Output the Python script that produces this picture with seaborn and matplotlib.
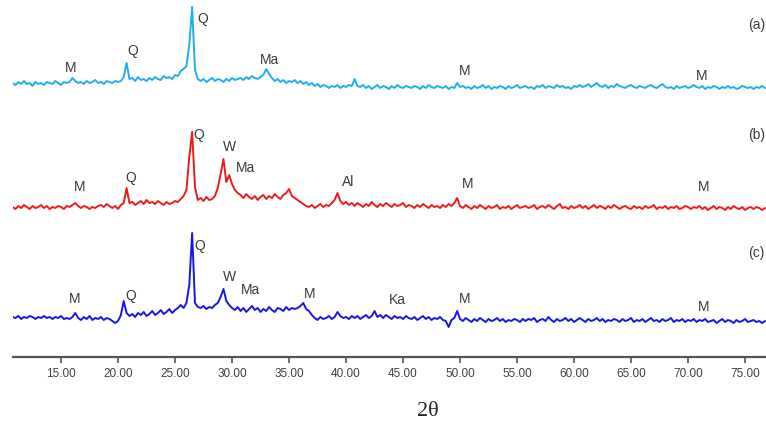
import numpy as np
import pandas as pd
import seaborn as sns
import matplotlib.pyplot as plt
from matplotlib.ticker import FormatStrFormatter

# 2-theta sampling of the scans (deg), 0.25 deg steps
two_theta = np.arange(10.75, 76.76, 0.25)

# intensities (arbitrary units, ~1 unit = 1 px), 20 points per row
pattern_a = [
    7, 5, 8, 6, 9, 6, 7, 4, 8, 6, 7, 5, 8, 7, 6, 9, 7, 5, 8, 7,
    8, 12, 9, 7, 8, 6, 9, 7, 8, 10, 7, 8, 6, 9, 8, 7, 9, 8, 9, 13,
    27, 11, 12, 9, 13, 10, 11, 9, 12, 10, 13, 11, 10, 14, 12, 13, 11, 15, 14, 19,
    21, 24, 45, 83, 20, 11, 9, 11, 8, 10, 12, 9, 11, 10, 8, 11, 9, 12, 10, 11,
    12, 10, 13, 11, 14, 12, 11, 13, 15, 21, 16, 12, 9, 11, 8, 10, 7, 9, 8, 10,
    7, 9, 6, 8, 5, 7, 4, 6, 3, 5, 4, 2, 4, 3, 5, 2, 4, 3, 5, 4,
    11, 4, 3, 5, 2, 4, 1, 3, 5, 2, 4, 3, 1, 4, 2, 5, 3, 2, 4, 3,
    2, 4, 3, 1, 4, 2, 5, 3, 2, 4, 3, 2, 4, 1, 3, 2, 7, 3, 4, 2,
    3, 1, 4, 2, 3, 5, 2, 4, 1, 3, 2, 4, 3, 1, 4, 2, 3, 5, 2, 3,
    4, 2, 3, 1, 4, 3, 5, 2, 4, 3, 2, 5, 3, 4, 2, 3, 1, 4, 3, 5,
    3, 4, 6, 3, 5, 7, 4, 3, 5, 2, 4, 3, 6, 4, 3, 2, 4, 5, 3, 2,
    4, 3, 2, 4, 5, 3, 2, 4, 6, 3, 2, 3, 1, 4, 2, 3, 4, 2, 3, 5,
    3, 2, 4, 1, 3, 2, 4, 3, 1, 3, 2, 4, 2, 3, 1, 2, 4, 3, 2, 3,
    1, 3, 2, 4, 2,
]
pattern_b = [
    5, 3, 6, 4, 7, 5, 3, 6, 4, 5, 7, 4, 6, 3, 5, 4, 6, 5, 3, 6,
    5, 7, 9, 6, 4, 6, 5, 3, 5, 4, 6, 7, 5, 8, 6, 4, 6, 3, 7, 9,
    24, 9, 10, 7, 9, 11, 8, 12, 9, 10, 8, 11, 9, 7, 10, 8, 9, 11, 10, 13,
    16, 22, 55, 80, 25, 12, 14, 11, 15, 12, 13, 16, 24, 38, 53, 30, 37, 28, 22, 19,
    17, 14, 18, 15, 13, 16, 12, 15, 17, 13, 16, 14, 18, 15, 13, 17, 19, 23, 16, 14,
    12, 10, 8, 6, 5, 7, 4, 6, 8, 5, 7, 6, 9, 12, 19, 11, 8, 10, 7, 9,
    6, 9, 7, 5, 8, 6, 10, 7, 5, 8, 6, 9, 7, 5, 8, 6, 7, 9, 5, 7,
    6, 4, 7, 5, 8, 6, 4, 7, 5, 6, 4, 7, 5, 8, 6, 9, 14, 6, 4, 7,
    5, 3, 6, 4, 7, 5, 3, 6, 4, 5, 7, 3, 5, 4, 6, 3, 5, 7, 4, 5,
    6, 4, 5, 7, 3, 5, 6, 4, 7, 5, 3, 6, 8, 4, 5, 3, 6, 4, 5, 7,
    4, 6, 3, 5, 7, 4, 6, 5, 3, 6, 4, 7, 5, 3, 5, 6, 4, 3, 6, 4,
    5, 3, 6, 4, 5, 7, 3, 5, 4, 6, 3, 5, 4, 6, 3, 4, 6, 5, 3, 5,
    4, 6, 3, 5, 2, 4, 6, 3, 5, 4, 2, 5, 3, 6, 4, 3, 5, 2, 4, 5,
    3, 5, 4, 2, 4,
]
pattern_c = [
    8, 7, 9, 6, 8, 7, 9, 8, 6, 8, 7, 9, 7, 8, 6, 8, 7, 9, 6, 7,
    6, 8, 12, 7, 5, 8, 6, 9, 5, 7, 6, 8, 5, 7, 6, 4, 2, 4, 10, 24,
    12, 9, 11, 8, 12, 10, 13, 9, 11, 14, 10, 12, 15, 11, 13, 16, 12, 15, 17, 20,
    17, 22, 40, 92, 22, 18, 17, 19, 16, 18, 17, 20, 22, 28, 36, 24, 20, 17, 15, 18,
    14, 17, 13, 16, 19, 15, 17, 13, 16, 14, 18, 15, 13, 17, 16, 14, 18, 15, 17, 16,
    17, 19, 22, 16, 14, 10, 7, 5, 8, 6, 7, 9, 6, 8, 13, 9, 7, 8, 6, 9,
    7, 9, 6, 8, 10, 7, 9, 14, 8, 10, 7, 10, 8, 6, 9, 7, 8, 6, 9, 7,
    6, 8, 5, 7, 9, 6, 8, 5, 7, 6, 8, 5, 4, -2, 5, 7, 14, 6, 4, 7,
    5, 3, 6, 4, 7, 5, 3, 6, 4, 5, 7, 4, 6, 3, 5, 4, 6, 5, 3, 6,
    4, 6, 5, 7, 3, 5, 6, 4, 8, 5, 3, 6, 4, 5, 7, 4, 6, 3, 5, 7,
    5, 3, 6, 4, 5, 7, 4, 6, 3, 5, 4, 6, 5, 3, 6, 4, 5, 7, 3, 5,
    4, 6, 3, 5, 7, 4, 5, 3, 6, 4, 5, 7, 3, 5, 4, 6, 3, 5, 4, 6,
    3, 5, 4, 6, 3, 4, 5, 2, 4, 6, 3, 5, 4, 2, 5, 3, 4, 6, 3, 4,
    5, 3, 4, 2, 4,
]

samples = ['(a)', '(b)', '(c)']
colors = ['#1FAFEC', '#EE1B1B', '#1717E3']
offsets = [267, 145, 32]  # vertical stacking of the three scans

# phase labels: (text, 2theta, height above the scan's offset)
peak_labels = [
    [('M', 15.8, 22), ('Q', 21.3, 39), ('Q', 27.4, 71), ('Ma', 33.3, 30),
     ('M', 50.4, 19), ('M', 71.2, 14)],
    [('M', 16.6, 25), ('Q', 21.1, 34), ('Q', 27.1, 77), ('W', 29.8, 65),
     ('Ma', 31.2, 44), ('Al', 40.2, 30), ('M', 50.7, 28), ('M', 71.4, 25)],
    [('M', 16.2, 26), ('Q', 21.1, 29), ('Q', 27.2, 79), ('W', 29.8, 48),
     ('Ma', 31.6, 35), ('M', 36.8, 31), ('Ka', 44.5, 25), ('M', 50.4, 26),
     ('M', 71.4, 18)],
]
sample_label_y = [65, 77, 72]

frames = []
for name, vals, off in zip(samples, [pattern_a, pattern_b, pattern_c], offsets):
    frames.append(pd.DataFrame({'two_theta': two_theta,
                                'intensity': np.array(vals) + off,
                                'sample': name}))
df = pd.concat(frames, ignore_index=True)

sns.set_style('white')
plt.rcParams['font.family'] = ['Liberation Sans', 'DejaVu Sans']

fig = plt.figure(figsize=(7.66, 4.25), dpi=100)
ax = fig.add_axes([12.7 / 766, 0.16, 1 - 12.7 / 766, 0.84])

sns.lineplot(data=df, x='two_theta', y='intensity', hue='sample',
             palette=dict(zip(samples, colors)), legend=False,
             estimator=None, sort=False, lw=1.4, ax=ax)

for labels, off in zip(peak_labels, offsets):
    for txt, x, h in labels:
        ax.text(x, off + h, txt, ha='center', va='center',
                fontsize=10, color='#3a3a3a')
for name, off, h in zip(samples, offsets, sample_label_y):
    ax.text(76.75, off + h, name, ha='right', va='center',
            fontsize=10, color='#3a3a3a', clip_on=False)

ax.set_xlim(10.76, 76.84)
ax.set_ylim(0, 357)
ax.set_xticks(np.arange(15, 76, 5))
ax.xaxis.set_major_formatter(FormatStrFormatter('%.2f'))
ax.set_yticks([])
ax.set_xlabel('')
ax.set_ylabel('')
sns.despine(ax=ax, left=True, top=True, right=True)
ax.spines['bottom'].set_color('#555555')
ax.spines['bottom'].set_linewidth(1.6)
ax.tick_params(axis='x', direction='out', length=4, width=1.2,
               color='#555555', labelsize=8.5, labelcolor='#404040', pad=4,
               bottom=True)

fig.text(428 / 766, 1 - 412 / 425, '2θ', ha='center', va='center',
         fontsize=16, family=['Liberation Serif', 'DejaVu Serif'])

fig.savefig('out.png', dpi=100)
